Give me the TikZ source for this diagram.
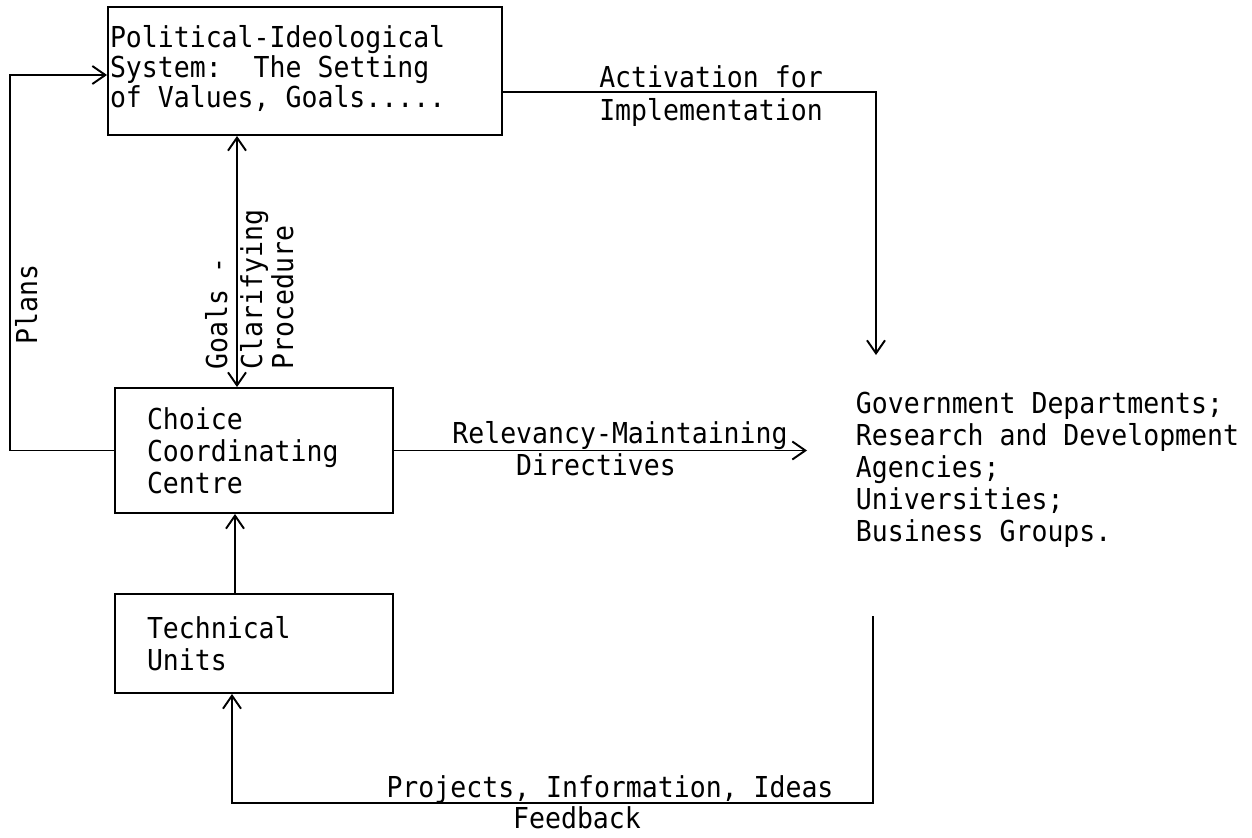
\documentclass[tikz,border=0pt]{standalone}
\usepackage{fontspec}
\setmainfont{DejaVu Sans Mono}[FakeStretch=0.92, WordSpace={1,0,0}]
\usetikzlibrary{arrows.meta}
\newcommand{\blank}{\hspace{0.32cm}}

\begin{document}
\begin{tikzpicture}[
        line width=1.1pt,
        >={Straight Barb[length=0.26cm,width=0.36cm]},
        every node/.style={font=\fontsize{16.4pt}{18.2pt}\selectfont, inner sep=0pt},
        unitbox/.style={draw, text width=4.28cm, inner xsep=0.64cm, align=left, minimum height=2.5cm},
        tag/.style={anchor=base}
    ]
        \useasboundingbox (0, 0) rectangle (25.04, -16.74);

        % Boxes
        \node[unitbox] (choice) at (5.08, -9.01) {Choice\\Coordinating\\Centre};
        \node[unitbox, minimum height=1.98cm] (tech) at (5.08, -12.87) {Technical\\Units};
        \node[draw, text width=7.8cm, inner xsep=0.04cm, align=left, minimum height=2.56cm,
              font=\fontsize{16.4pt}{17.1pt}\selectfont] (pol) at (6.10, -1.42)
            {Political-Ideological\\System:\blank\blank The\blank Setting\\of\blank Values,\blank Goals.....\vspace{0.1cm}};
        % base of this node is its last line
        \node[anchor=base west, align=left] (gov) at (17.10, -10.82)
            {Government Departments;\\Research and Development\\Agencies;\\Universities;\\Business Groups.};

        % Corners and free ends
        \coordinate (planscorner) at (0.20, -1.50);
        \coordinate (gx) at (4.74, 0);
        \coordinate (ux) at (4.70, 0);
        \coordinate (actcorner) at (17.52, -1.84);
        \coordinate (actend) at (17.52, -7.10);
        \coordinate (relend) at (16.14, -9.01);
        \coordinate (fbtop) at (17.46, -12.32);
        \coordinate (fbcorner) at (4.64, -16.06);

        % Connectors
        \draw[->] (choice.west) -| (planscorner) -- (pol.west |- planscorner);
        \draw[<->] (pol.south -| gx) -- (choice.north -| gx);
        \draw[->] (tech.north -| ux) -- (choice.south -| ux);
        \draw[->] (choice.east) -- (relend);
        \draw[->] (pol.east |- actcorner) -- (actcorner) -- (actend);
        \draw[->] (fbtop) |- (fbcorner) -- (tech.south -| fbcorner);

        % Labels
        \node[rotate=90, anchor=base west] (plans) at (0.74, -6.90) {Plans};
        \node[rotate=90, anchor=base west] (goals1) at (4.54, -7.40) {Goals -};
        \node[rotate=90, anchor=base west] (goals2) at (5.24, -7.40) {Clarifying};
        \node[rotate=90, anchor=base west] (goals3) at (5.86, -7.40) {Procedure};
        \node[tag] (act1) at (14.22, -1.74) {Activation for};
        \node[tag] (act2) at (14.22, -2.40) {Implementation};
        \node[tag] (rel1) at (12.40, -8.86) {Relevancy-Maintaining};
        \node[tag] (rel2) at (11.92, -9.50) {Directives};
        \node[tag] (fb1) at (12.20, -15.94) {Projects, Information, Ideas};
        \node[tag] (fb2) at (11.54, -16.56) {Feedback};
    \end{tikzpicture}
\end{document}
